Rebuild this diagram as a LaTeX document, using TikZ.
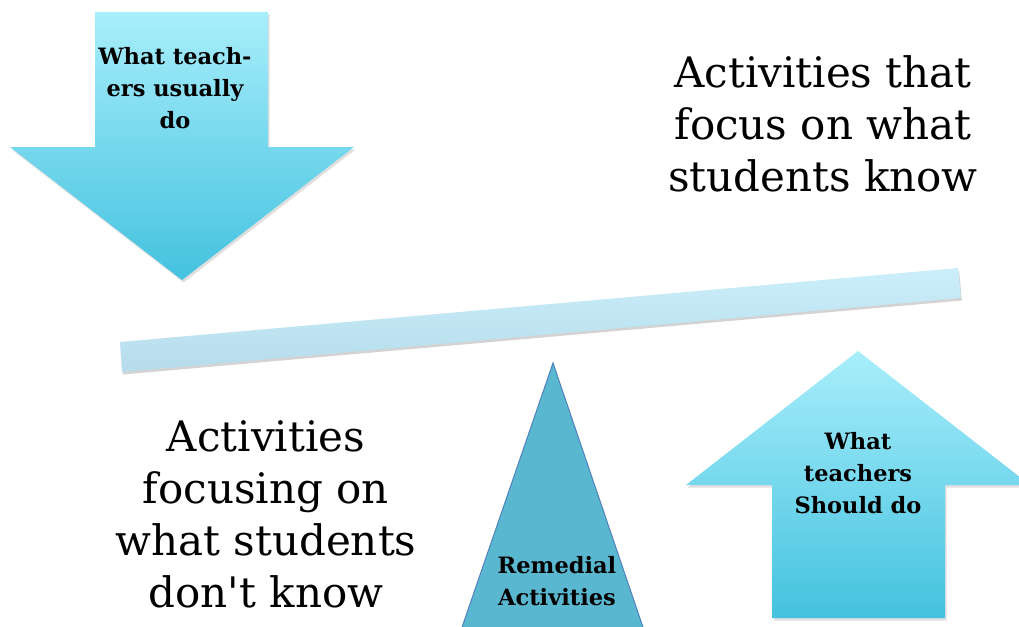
\documentclass[tikz,border=0pt]{standalone}
\usepackage{fontspec}
\setmainfont{DejaVu Serif}[Ligatures=TeXOff]
\usetikzlibrary{shadows}
\definecolor{arrtop}{HTML}{A8EEFB}
\definecolor{arrbot}{HTML}{44C2DF}
\definecolor{bartop}{HTML}{CBEFFA}
\definecolor{barbot}{HTML}{B6DCEC}
\definecolor{trifill}{HTML}{5AB7D0}
\definecolor{triline}{HTML}{4F81BD}
\begin{document}
\begin{tikzpicture}[x=1pt,y=-1pt,
  bigtext/.style={font=\fontsize{42}{52}\selectfont, align=center, inner sep=0pt},
  boldtext/.style={font=\bfseries\fontsize{22.5}{32}\selectfont, align=center, inner sep=0pt},
  arrowshape/.style={top color=arrtop, bottom color=arrbot, draw=none,
    drop shadow={opacity=0.25, shadow xshift=1.5pt, shadow yshift=-2.5pt}},
  barshape/.style={top color=bartop, bottom color=barbot, draw=none,
    drop shadow={opacity=0.35, shadow xshift=1pt, shadow yshift=-2.5pt}},
  trishape/.style={fill=trifill, draw=triline, line width=1pt}]
\useasboundingbox (0,0) rectangle (1019,626);
\clip (0,0) rectangle (1019,626);
% down arrow
\path[arrowshape] (95,12) -- (268,12) -- (268,147) -- (354,147) -- (182,280) -- (10,147) -- (95,147) -- cycle;
% balance bar
\path[barshape] (120,342) -- (958,268) -- (961,298) -- (122,372) -- cycle;
% fulcrum triangle
\path[trishape] (553,363) -- (646,636) -- (459,636) -- cycle;
% up arrow
\path[arrowshape] (858,351) -- (1030,485) -- (945,485) -- (945,618) -- (772,618) -- (772,485) -- (686,485) -- cycle;
% texts
\node[boldtext] (usually) at (175,88) {What teach-\\ers usually\\do};
\node[bigtext] (know) at (823,124) {Activities that\\focus on what\\students know};
\node[bigtext] (dontknow) at (266,514) {Activities\\focusing on\\what students\\don't know};
\node[boldtext] (remedial) at (557,581) {Remedial\\Activities};
\node[boldtext] (should) at (858,473) {What\\teachers\\Should do};
\end{tikzpicture}
\end{document}
